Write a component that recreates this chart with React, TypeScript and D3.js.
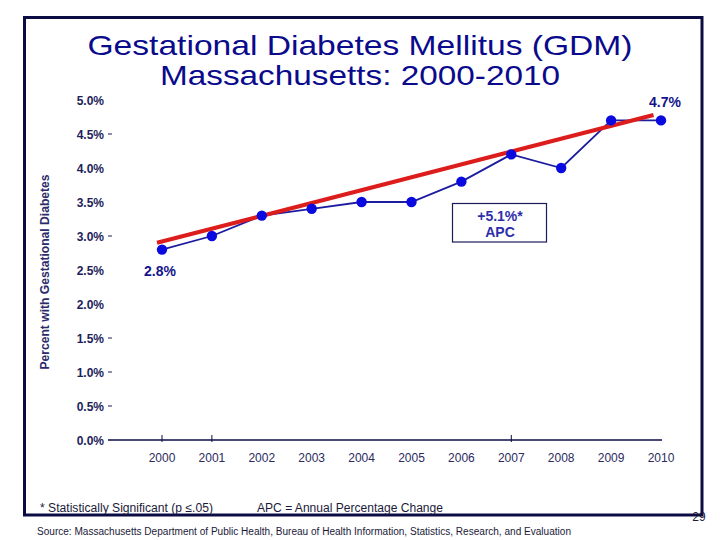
import React, { useEffect, useRef } from "react";
import * as d3 from "d3";

const years = [2000, 2001, 2002, 2003, 2004, 2005, 2006, 2007, 2008, 2009, 2010];
const gdmPercent = [2.8, 3.0, 3.3, 3.4, 3.5, 3.5, 3.8, 4.2, 4.0, 4.7, 4.7];
const trendYears = [1999.9, 2009.85];
const trendPercent = [2.9, 4.78];
const yTicks = [0, 0.5, 1, 1.5, 2, 2.5, 3, 3.5, 4, 4.5, 5];
const yDashTicks = [0.5, 1, 1.5, 3, 4.5];
const xTickMarks = [2000, 2001, 2007];
const titleLines = ["Gestational Diabetes Mellitus (GDM)", "Massachusetts: 2000-2010"];
const yAxisTitle = "Percent with Gestational Diabetes";
const apcLines = ["+5.1%*", "APC"];
const footnote1 = "* Statistically Significant  (p \u2264.05)";
const footnote2 = "APC = Annual Percentage Change";
const sourceNote =
  "Source:  Massachusetts Department of Public Health, Bureau of Health Information, Statistics, Research, and Evaluation";
const pageNumber = "29";

const W = 720;
const H = 540;

export default function App() {
  const ref = useRef<SVGSVGElement>(null);

  useEffect(() => {
    const svg = d3.select(ref.current);
    svg.selectAll("*").remove();
    const font = "'Liberation Sans', Arial, sans-serif";
    const narrow = "'Liberation Sans Narrow', 'Liberation Sans', Arial, sans-serif";

    const x = d3.scaleLinear().domain([2000, 2010]).range([162, 661]);
    const y = d3.scaleLinear().domain([0, 5]).range([440, 100]);

    svg.append("rect").attr("width", W).attr("height", H).attr("fill", "#ffffff");

    // frame
    svg
      .append("rect")
      .attr("x", 24.5)
      .attr("y", 17.5)
      .attr("width", 677.5)
      .attr("height", 497.5)
      .attr("fill", "none")
      .attr("stroke", "#0c0c44")
      .attr("stroke-width", 3);

    // title
    const titleWidths = [545, 400];
    titleLines.forEach((l, i) => {
      svg
        .append("text")
        .attr("x", 360)
        .attr("y", 55 + i * 29.5)
        .attr("text-anchor", "middle")
        .attr("font-family", font)
        .attr("font-size", 28.5)
        .attr("fill", "#0a0a8c")
        .attr("textLength", titleWidths[i])
        .attr("lengthAdjust", "spacingAndGlyphs")
        .text(l);
    });

    // y axis title
    svg
      .append("text")
      .attr("transform", `translate(49,272) rotate(-90)`)
      .attr("text-anchor", "middle")
      .attr("font-family", font)
      .attr("font-weight", "bold")
      .attr("font-size", 12)
      .attr("fill", "#2b2b6b")
      .attr("textLength", 195)
      .attr("lengthAdjust", "spacingAndGlyphs")
      .text(yAxisTitle);

    // y tick labels
    svg
      .append("g")
      .selectAll("text")
      .data(yTicks)
      .join("text")
      .attr("x", 104)
      .attr("y", (d) => y(d) + 4.5)
      .attr("text-anchor", "end")
      .attr("font-family", font)
      .attr("font-weight", "bold")
      .attr("font-size", 12)
      .attr("fill", "#1e1e5a")
      .text((d) => d.toFixed(1) + "%");

    svg
      .append("g")
      .selectAll("line")
      .data(yDashTicks)
      .join("line")
      .attr("x1", 108)
      .attr("x2", 112)
      .attr("y1", (d) => y(d))
      .attr("y2", (d) => y(d))
      .attr("stroke", "#1e1e5a")
      .attr("stroke-width", 1);

    // x axis line
    svg
      .append("line")
      .attr("x1", 108)
      .attr("x2", 662)
      .attr("y1", y(0))
      .attr("y2", y(0))
      .attr("stroke", "#0c0c44")
      .attr("stroke-width", 1.5);

    svg
      .append("g")
      .selectAll("line")
      .data(xTickMarks)
      .join("line")
      .attr("x1", (d) => x(d))
      .attr("x2", (d) => x(d))
      .attr("y1", y(0) - 5)
      .attr("y2", y(0) + 2)
      .attr("stroke", "#0c0c44")
      .attr("stroke-width", 1);

    svg
      .append("g")
      .selectAll("text")
      .data(years)
      .join("text")
      .attr("x", (d) => x(d))
      .attr("y", 462)
      .attr("text-anchor", "middle")
      .attr("font-family", font)
      .attr("font-size", 12)
      .attr("fill", "#2b2b5e")
      .text((d) => String(d));

    // data line
    const line = d3
      .line<number>()
      .x((_, i) => x(years[i]))
      .y((d) => y(d));
    svg
      .append("path")
      .datum(gdmPercent)
      .attr("d", line)
      .attr("fill", "none")
      .attr("stroke", "#1c1ca0")
      .attr("stroke-width", 1.8);

    // trend line
    const tline = d3
      .line<number>()
      .x((_, i) => x(trendYears[i]))
      .y((d) => y(d));
    svg
      .append("path")
      .datum(trendPercent)
      .attr("d", tline)
      .attr("fill", "none")
      .attr("stroke", "#dd1c1c")
      .attr("stroke-width", 4);

    // markers
    svg
      .append("g")
      .selectAll("circle")
      .data(gdmPercent)
      .join("circle")
      .attr("cx", (_, i) => x(years[i]))
      .attr("cy", (d) => y(d))
      .attr("r", 5.2)
      .attr("fill", "#0a0ae0");

    // endpoint labels
    const addLabel = (lx: number, ly: number, txt: string) =>
      svg
        .append("text")
        .attr("x", lx)
        .attr("y", ly)
        .attr("text-anchor", "middle")
        .attr("font-family", font)
        .attr("font-weight", "bold")
        .attr("font-size", 14)
        .attr("fill", "#14148a")
        .text(txt);
    addLabel(x(years[0]) - 2, 276, gdmPercent[0].toFixed(1) + "%");
    addLabel(x(years[10]) + 4, 107, gdmPercent[10].toFixed(1) + "%");

    // APC box
    svg
      .append("rect")
      .attr("x", 452.5)
      .attr("y", 203.5)
      .attr("width", 94)
      .attr("height", 38.5)
      .attr("fill", "#ffffff")
      .attr("stroke", "#1c1c5c")
      .attr("stroke-width", 1.2);
    apcLines.forEach((l, i) => {
      svg
        .append("text")
        .attr("x", 500)
        .attr("y", 221 + i * 16)
        .attr("text-anchor", "middle")
        .attr("font-family", font)
        .attr("font-weight", "bold")
        .attr("font-size", 14)
        .attr("fill", "#2e2eaa")
        .text(l);
    });

    // footnotes
    svg
      .append("text")
      .attr("x", 40)
      .attr("y", 512)
      .attr("font-family", narrow)
      .attr("font-size", 12.5)
      .attr("fill", "#1a1a3a")
      .attr("textLength", 173)
      .attr("lengthAdjust", "spacingAndGlyphs")
      .text(footnote1);
    svg
      .append("text")
      .attr("x", 257)
      .attr("y", 512)
      .attr("font-family", narrow)
      .attr("font-size", 12.5)
      .attr("fill", "#1a1a3a")
      .attr("textLength", 186)
      .attr("lengthAdjust", "spacingAndGlyphs")
      .text(footnote2);
    svg
      .append("text")
      .attr("x", 37)
      .attr("y", 535)
      .attr("font-family", narrow)
      .attr("font-size", 10)
      .attr("fill", "#1a1a3a")
      .attr("textLength", 534)
      .attr("lengthAdjust", "spacingAndGlyphs")
      .text(sourceNote);
    svg
      .append("text")
      .attr("x", 699)
      .attr("y", 521)
      .attr("text-anchor", "middle")
      .attr("font-family", narrow)
      .attr("font-size", 12)
      .attr("fill", "#1a1a3a")
      .text(pageNumber);
  }, []);

  return (
    <div style={{ position: "absolute", left: 0, top: 0 }}>
      <svg ref={ref} width={W} height={H} style={{ display: "block" }} />
    </div>
  );
}
